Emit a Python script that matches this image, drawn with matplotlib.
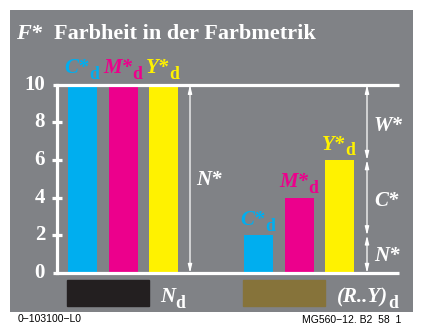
import matplotlib
matplotlib.use("Agg")
import matplotlib.pyplot as plt
from matplotlib.patches import Rectangle

plt.rcParams['font.family'] = 'Liberation Serif'

# colorant values (F*) for the two groups
dark_values = [10, 10, 10]
chroma_values = [2, 4, 6]
bar_names = ['C*', 'M*', 'Y*']
bar_colors = ['#00aeef', '#ec008c', '#fff200']
yticks = [0, 2, 4, 6, 8, 10]

GRAY = '#808286'
W, H = 424, 323

fig = plt.figure(figsize=(W / 100, H / 100), dpi=100)
fig.patch.set_facecolor('white')
# gray panel, axes in pixel x units; y in F* units
x0, x1, ytop, ybot = 10, 413, 10, 312
ax = fig.add_axes([x0 / W, 1 - ybot / H, (x1 - x0) / W, (ybot - ytop) / H])
ax.set_facecolor(GRAY)
ax.set_xlim(x0, x1)
ax.set_ylim(-2.07, 13.97)
ax.axis('off')
ax.add_patch(Rectangle((0, 0), 1, 1, transform=ax.transAxes, color=GRAY, zorder=0))

left_x = [82.5, 123, 163.5]
right_x = [258.5, 299.5, 339.5]
bw = 29

ax.bar(left_x, dark_values, width=bw, color=bar_colors, zorder=2)
ax.bar(right_x, chroma_values, width=bw, color=bar_colors, zorder=2)

# frame lines and ticks
ax.plot([57, 57], [0, 10], color='white', lw=2.3, zorder=3)
ax.plot([53, 399], [0, 0], color='white', lw=2.3, zorder=3, solid_capstyle='butt')
ax.plot([53, 399], [10, 10], color='white', lw=2.3, zorder=3, solid_capstyle='butt')
for t in yticks:
    if 0 < t < 10:
        ax.plot([52, 62], [t, t], color='white', lw=2.3, zorder=3, solid_capstyle='butt')
    ax.text(45, t, str(t), color='white', fontsize=15, fontweight='bold',
            ha='right', va='center')


def darrow(x, ya, yb):
    ax.annotate('', xy=(x, ya), xytext=(x, yb),
                arrowprops=dict(arrowstyle='<|-|>,head_length=0.5,head_width=0.12',
                                color='white', lw=0.9, shrinkA=0, shrinkB=0))


def label(x, y, main, color, sub=None, ha='left', size=15):
    """bold italic label with an upright bold subscript d"""
    dx = -4 if (sub and ha == 'center') else 0
    t = ax.annotate(main, xy=(x, y), xytext=(dx, 0), textcoords='offset points',
                    color=color, fontsize=size, style='italic', weight='bold',
                    ha=ha, va='baseline')
    if sub:
        # subscript sits right of the label, baseline dropped a few points
        ax.annotate(sub, xy=(1, y), xycoords=(t, 'data'), xytext=(0, -4.3),
                    textcoords='offset points', color=color, fontsize=size * 0.85,
                    weight='bold', ha='left', va='baseline')
    return t


darrow(190, 10, 0)
darrow(367, 10, max(chroma_values))
darrow(367, max(chroma_values), min(chroma_values))
darrow(367, min(chroma_values), 0)

label(196, 4.65, 'N*', 'white')
label(374, 7.55, 'W*', 'white')
label(374, 3.57, 'C*', 'white')
label(374, 0.62, 'N*', 'white')

# labels above the bars
for x, n, c in zip(left_x, bar_names, bar_colors):
    label(x, 10.6, n, c, sub='d', ha='center')
for x, v, n, c in zip(right_x, chroma_values, bar_names, bar_colors):
    label(x, v + 0.56, n, c, sub='d', ha='center')

# colour swatches below the axis
ax.add_patch(Rectangle((67, -1.74), 82, 1.38, color='#231f20', zorder=2))
ax.add_patch(Rectangle((243, -1.74), 82, 1.38, color='#86733a', zorder=2))
label(160, -1.55, 'N', 'white', sub='d')
label(337, -1.55, '(R..Y)', 'white', sub='d')

fig.text(16 / W, 1 - 39 / H, 'F*', color='white', fontsize=16, style='italic',
         weight='bold', va='baseline')
fig.text(54 / W, 1 - 39 / H, 'Farbheit in der Farbmetrik', color='white',
         fontsize=16, fontweight='bold', va='baseline')

fig.text(18 / W, 1 - 314 / H, '0\u2212103100\u2212L0', fontsize=7.5, va='top',
         family='Liberation Sans')
fig.text(401 / W, 1 - 314 / H, 'MG560\u221212, B2_58_1', fontsize=7.5, va='top',
         ha='right', family='Liberation Sans')

fig.savefig('out.png', dpi=100, facecolor='white')
